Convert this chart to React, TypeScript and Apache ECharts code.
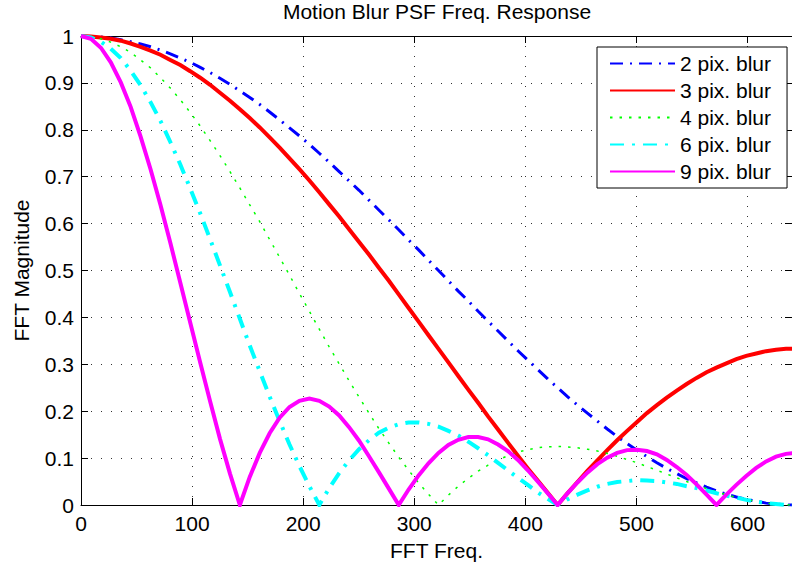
import React, { useEffect, useRef } from "react";
import * as echarts from "echarts";

// Sample frequencies (FFT bin index) shared by every curve
const freq = [
  0, 8.9, 17.9, 26.8, 35.8, 44.7, 53.6, 62.6, 71.5, 80.4, 89.4, 98.3,
  107.3, 116.2, 125.1, 134.1, 143.0, 151.9, 160.9, 169.8, 178.8, 187.7, 196.6, 205.6,
  214.5, 223.4, 232.4, 241.3, 250.3, 259.2, 268.1, 277.1, 286.0, 294.9, 303.9, 312.8,
  321.8, 330.7, 339.6, 348.6, 357.5, 366.4, 375.4, 384.3, 393.3, 402.2, 411.1, 420.1,
  429.0, 437.9, 446.9, 455.8, 464.8, 473.7, 482.6, 491.6, 500.5, 509.4, 518.4, 527.3,
  536.3, 545.2, 554.1, 563.1, 572.0, 580.9, 589.9, 598.8, 607.8, 616.7, 625.6, 634.6,
  643.5,
];

// FFT magnitude of each motion-blur kernel
const blur2 = [
  1.000, 0.999, 0.998, 0.996, 0.992, 0.988, 0.983, 0.977, 0.970, 0.962, 0.953, 0.944,
  0.933, 0.922, 0.910, 0.897, 0.883, 0.869, 0.854, 0.838, 0.821, 0.804, 0.787, 0.769,
  0.750, 0.731, 0.711, 0.691, 0.671, 0.650, 0.629, 0.608, 0.587, 0.565, 0.544, 0.522,
  0.500, 0.478, 0.456, 0.435, 0.413, 0.392, 0.371, 0.350, 0.329, 0.309, 0.289, 0.269,
  0.250, 0.231, 0.213, 0.196, 0.179, 0.162, 0.146, 0.131, 0.117, 0.103, 0.090, 0.078,
  0.067, 0.056, 0.047, 0.038, 0.030, 0.023, 0.017, 0.012, 0.008, 0.004, 0.002, 0.000,
  0.000,
];

const blur3 = [
  1.000, 0.999, 0.997, 0.994, 0.990, 0.984, 0.977, 0.969, 0.960, 0.949, 0.938, 0.925,
  0.911, 0.896, 0.879, 0.862, 0.844, 0.825, 0.805, 0.784, 0.762, 0.739, 0.716, 0.692,
  0.667, 0.641, 0.615, 0.588, 0.561, 0.534, 0.506, 0.478, 0.449, 0.420, 0.391, 0.362,
  0.333, 0.304, 0.275, 0.246, 0.218, 0.189, 0.161, 0.133, 0.105, 0.078, 0.052, 0.026,
  0.000, 0.025, 0.049, 0.073, 0.095, 0.117, 0.138, 0.158, 0.177, 0.196, 0.213, 0.229,
  0.244, 0.258, 0.271, 0.283, 0.293, 0.302, 0.311, 0.318, 0.323, 0.328, 0.331, 0.333,
  0.333,
];

const blur4 = [
  1.000, 0.999, 0.994, 0.987, 0.977, 0.965, 0.949, 0.932, 0.911, 0.889, 0.864, 0.837,
  0.808, 0.777, 0.745, 0.711, 0.676, 0.640, 0.604, 0.566, 0.528, 0.490, 0.451, 0.413,
  0.375, 0.337, 0.301, 0.265, 0.230, 0.196, 0.163, 0.132, 0.102, 0.074, 0.047, 0.023,
  0.000, 0.021, 0.040, 0.057, 0.072, 0.085, 0.096, 0.105, 0.113, 0.118, 0.122, 0.124,
  0.125, 0.124, 0.122, 0.119, 0.115, 0.110, 0.104, 0.097, 0.090, 0.082, 0.074, 0.066,
  0.058, 0.050, 0.042, 0.035, 0.028, 0.022, 0.016, 0.012, 0.007, 0.004, 0.002, 0.000,
  0.000,
];

const blur6 = [
  1.000, 0.997, 0.988, 0.973, 0.953, 0.926, 0.895, 0.859, 0.819, 0.774, 0.726, 0.675,
  0.622, 0.567, 0.511, 0.454, 0.397, 0.340, 0.285, 0.231, 0.179, 0.129, 0.083, 0.040,
  0.000, 0.036, 0.068, 0.095, 0.119, 0.138, 0.154, 0.165, 0.172, 0.176, 0.176, 0.173,
  0.167, 0.158, 0.148, 0.135, 0.121, 0.106, 0.090, 0.074, 0.058, 0.043, 0.027, 0.013,
  0.000, 0.012, 0.022, 0.031, 0.039, 0.045, 0.049, 0.051, 0.053, 0.052, 0.051, 0.048,
  0.045, 0.040, 0.036, 0.031, 0.025, 0.020, 0.016, 0.011, 0.007, 0.004, 0.002, 0.000,
  0.000,
];

const blur9 = [
  1.000, 0.994, 0.975, 0.944, 0.901, 0.849, 0.786, 0.716, 0.640, 0.559, 0.474, 0.389,
  0.304, 0.221, 0.141, 0.067, 0.000, 0.060, 0.111, 0.153, 0.186, 0.209, 0.222, 0.227,
  0.222, 0.210, 0.191, 0.166, 0.137, 0.104, 0.070, 0.035, 0.000, 0.033, 0.063, 0.089,
  0.111, 0.128, 0.139, 0.145, 0.145, 0.140, 0.129, 0.115, 0.096, 0.074, 0.050, 0.025,
  0.000, 0.025, 0.048, 0.069, 0.087, 0.101, 0.111, 0.117, 0.118, 0.115, 0.108, 0.096,
  0.081, 0.064, 0.044, 0.022, 0.000, 0.022, 0.043, 0.062, 0.079, 0.093, 0.103, 0.109,
  0.111,
];

const seriesNames = ["2 pix. blur", "3 pix. blur", "4 pix. blur", "6 pix. blur", "9 pix. blur"];
const seriesValues = [blur2, blur3, blur4, blur6, blur9];
const seriesColors = ["#0000ff", "#ff0000", "#00ff00", "#00ffff", "#ff00ff"];
const seriesWidths = [3, 4, 1.5, 4, 4];
const seriesDash: (string | number[])[] = [[13, 7, 2, 7], "solid", [2.5, 7], [14, 8, 3, 8], "solid"];

const FONT = "'Liberation Sans', Arial, Helvetica, sans-serif";
const FONT_SIZE = 21;

export default function App() {
  const ref = useRef<HTMLDivElement>(null);

  useEffect(() => {
    if (!ref.current) return;
    const chart = echarts.init(ref.current, undefined, { renderer: "svg" });

    const series = seriesNames.map((name, i) => ({
      name,
      type: "line",
      data: freq.map((f, j) => [f, seriesValues[i][j]]),
      symbol: "none",
      color: seriesColors[i],
      lineStyle: {
        color: seriesColors[i],
        width: seriesWidths[i],
        type: seriesDash[i],
        join: "miter",
        cap: "butt",
      },
      emphasis: { disabled: true },
      z: 2 + i,
    }));

    const axisLine = { show: true, onZero: false, lineStyle: { color: "#000", width: 1 } };
    const tick = { show: true, inside: true, length: 7, lineStyle: { color: "#000", width: 1 } };
    const grid = { show: true, lineStyle: { color: "#333", width: 1, type: [1, 9] } };
    const labelText = { fontSize: FONT_SIZE, color: "#000", fontFamily: FONT };

    chart.setOption({
      animation: false,
      backgroundColor: "#ffffff",
      textStyle: { fontFamily: FONT },
      title: {
        text: "Motion Blur PSF Freq. Response",
        left: 437,
        top: 1,
        textAlign: "center",
        padding: 0,
        textStyle: { fontSize: FONT_SIZE, fontWeight: "normal", color: "#000", fontFamily: FONT },
      },
      grid: { left: 81, right: -2, top: 36, bottom: 62 },
      legend: {
        orient: "vertical",
        left: 597,
        top: 47,
        padding: [6, 16, 6, 12],
        itemWidth: 65,
        itemHeight: 14,
        itemGap: 6,
        selectedMode: false,
        backgroundColor: "#ffffff",
        borderColor: "#000",
        borderWidth: 1,
        borderRadius: 0,
        itemStyle: { color: "rgba(0,0,0,0)", borderWidth: 0, opacity: 0 },
        textStyle: labelText,
        data: seriesNames,
      },
      xAxis: [
        {
          type: "value",
          position: "bottom",
          min: 0,
          max: 640,
          interval: 100,
          name: "FFT Freq.",
          nameLocation: "middle",
          nameGap: 35,
          nameTextStyle: labelText,
          axisLine,
          axisTick: tick,
          axisLabel: { ...labelText, margin: 8, showMaxLabel: false },
          splitLine: grid,
        },
        {
          type: "value",
          position: "top",
          min: 0,
          max: 640,
          interval: 100,
          axisLine,
          axisTick: tick,
          axisLabel: { show: false },
          splitLine: { show: false },
        },
      ],
      yAxis: [
        {
          type: "value",
          position: "left",
          min: 0,
          max: 1,
          interval: 0.1,
          name: "FFT Magnitude",
          nameLocation: "middle",
          nameGap: 49,
          nameTextStyle: labelText,
          axisLine,
          axisTick: tick,
          axisLabel: { ...labelText, margin: 7 },
          splitLine: grid,
        },
        {
          type: "value",
          position: "right",
          min: 0,
          max: 1,
          interval: 0.1,
          axisLine,
          axisTick: tick,
          axisLabel: { show: false },
          splitLine: { show: false },
        },
      ],
      series,
    });

    return () => chart.dispose();
  }, []);

  return (
    <div
      ref={ref}
      style={{ position: "absolute", left: 0, top: 0, width: 792, height: 567 }}
    />
  );
}
